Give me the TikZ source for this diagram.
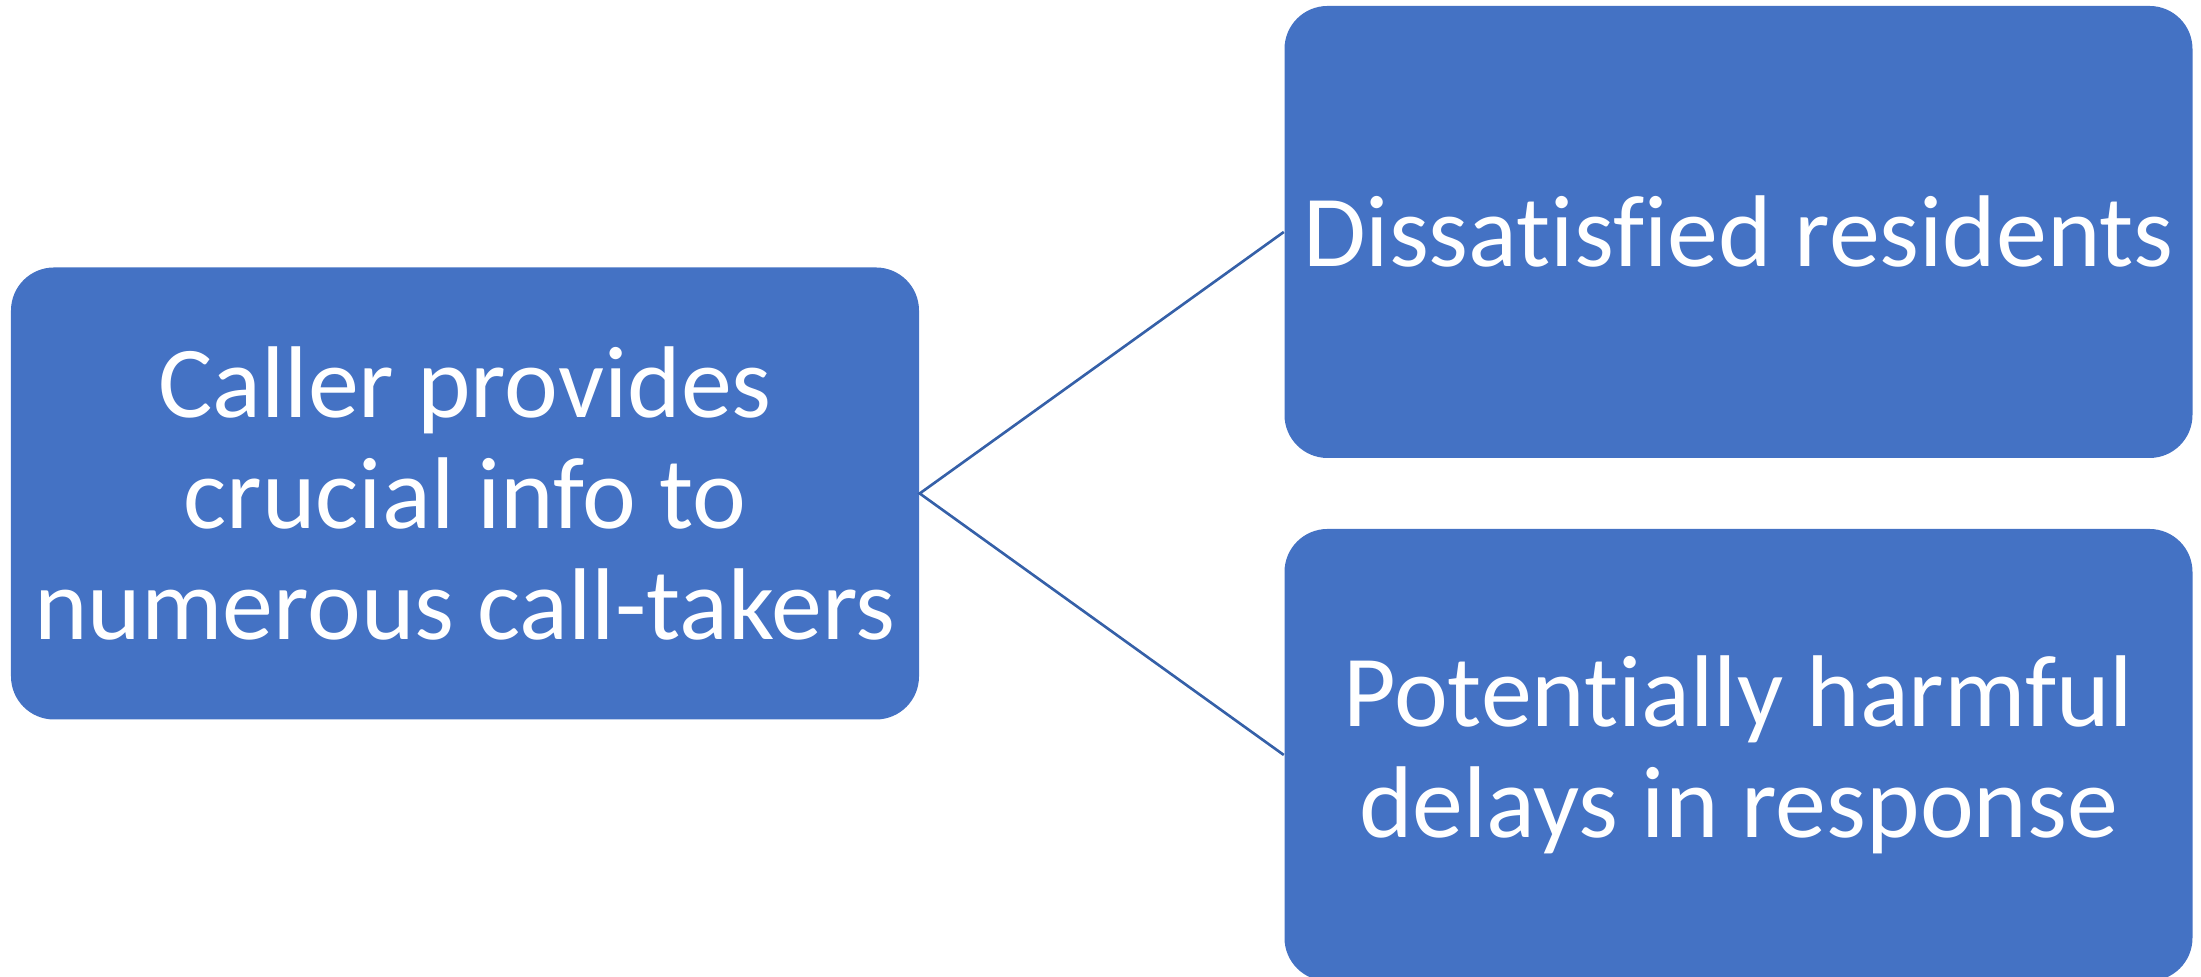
\documentclass[tikz,border=0pt]{standalone}
\usepackage{fontspec}
\setmainfont[RawFeature={-liga}]{Carlito}
\definecolor{boxblue}{HTML}{4472C4}
\definecolor{linkblue}{HTML}{3560A8}

\begin{document}
\begin{tikzpicture}[
	textbox/.style={fill=boxblue, rounded corners=0.43cm, text=white, align=center,
		minimum width=9.08cm, minimum height=4.52cm, inner sep=0pt,
		font=\fontsize{29}{31.5}\selectfont},
	link/.style={draw=linkblue, line width=0.75pt}]
	\useasboundingbox (0,0) rectangle (22.01,9.77);
	\node[textbox] (caller) at (4.65,4.835) {Caller provides\\crucial info to\\numerous call-takers};
	\node[textbox] (residents) at (17.385,7.45) {Dissatisfied residents};
	\node[textbox] (delays) at (17.385,2.22) {Potentially harmful\\delays in response};
	\draw[link] (residents.west) -- (caller.east) -- (delays.west);
\end{tikzpicture}
\end{document}
